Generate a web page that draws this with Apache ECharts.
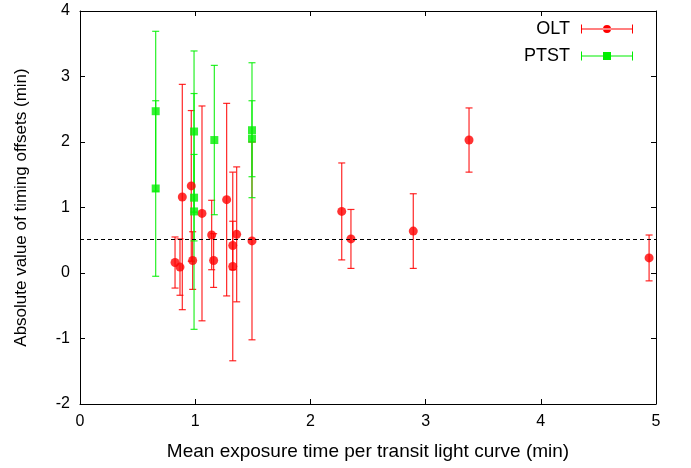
<!DOCTYPE html>
<html>
<head>
<meta charset="utf-8">
<script src="https://cdn.jsdelivr.net/npm/echarts@6/dist/echarts.min.js"></script>
<style>
  html, body { margin: 0; padding: 0; background: #fff; }
  #chart { width: 691px; height: 468px; }
</style>
</head>
<body>
<div id="chart"></div>
<script>
// OLT points: x, y and symmetric error
var oltX = [0.825, 0.868, 0.888, 0.966, 0.978, 1.059, 1.143, 1.16, 1.273, 1.326, 1.326, 1.36, 1.493, 2.272, 2.352, 2.893, 3.377, 4.94];
var oltY = [0.16, 0.09, 1.16, 1.33, 0.19, 0.91, 0.58, 0.19, 1.12, 0.42, 0.10, 0.59, 0.49, 0.94, 0.52, 0.64, 2.03, 0.23];
var oltErr = [0.39, 0.43, 1.72, 1.15, 0.44, 1.64, 0.53, 0.41, 1.47, 0.37, 1.44, 1.03, 1.51, 0.74, 0.45, 0.57, 0.49, 0.35];

// PTST points
var ptstX = [0.657, 0.657, 0.99, 0.99, 0.99, 1.166, 1.493, 1.493];
var ptstY = [2.47, 1.29, 2.16, 1.15, 0.94, 2.03, 2.18, 2.05];
var ptstErr = [1.22, 1.34, 1.23, 0.66, 1.8, 1.14, 1.03, 0.58];

var meanLevel = 0.52;
var xTicks = [0, 1, 2, 3, 4, 5];
var yTicks = [-2, -1, 0, 1, 2, 3, 4];

var fontName = "Liberation Sans, Arial, sans-serif";

function points(xs, ys) {
  return xs.map(function (x, i) { return [x, ys[i]]; });
}

function bars(xs, ys, errs) {
  return xs.map(function (x, i) { return [x, ys[i] - errs[i], ys[i] + errs[i]]; });
}

function renderErrorBar(params, api) {
  var x = api.value(0);
  var top = api.coord([x, api.value(2)]);
  var bot = api.coord([x, api.value(1)]);
  var half = 3.5;
  var style = { stroke: api.visual("color"), lineWidth: 1.2, opacity: 0.85 };
  return {
    type: "group",
    children: [
      { type: "line", shape: { x1: top[0], y1: top[1], x2: bot[0], y2: bot[1] }, style: style },
      { type: "line", shape: { x1: top[0] - half, y1: top[1], x2: top[0] + half, y2: top[1] }, style: style },
      { type: "line", shape: { x1: bot[0] - half, y1: bot[1], x2: bot[0] + half, y2: bot[1] }, style: style },
    ],
  };
}

// legend icons: horizontal error bar with the marker in the middle
var iconOLT = "path://M0,0h1v9H0z M51,0h1v9h-1z M0,4h52v1H0z M22,4.5a4,4 0 1,0 8,0a4,4 0 1,0 -8,0z";
var iconPTST = "path://M0,0h1v9H0z M51,0h1v9h-1z M0,4h52v1H0z M22,0.5h8v8h-8z";

var axisCommon = {
  type: "value",
  axisLine: { show: true, onZero: false, lineStyle: { color: "#000", width: 1 } },
  axisTick: { show: true, inside: true, length: 5, lineStyle: { color: "#000" } },
  splitLine: { show: false },
};

var option = {
  animation: false,
  backgroundColor: "#fff",
  grid: { left: 80, right: 35, top: 11, bottom: 64 },
  legend: {
    right: 53,
    top: 15,
    orient: "vertical",
    align: "right",
    itemWidth: 52,
    itemHeight: 9,
    itemGap: 9,
    textStyle: { fontFamily: fontName, fontSize: 18, color: "#000", padding: [0, 6, 0, 0] },
    data: [
      { name: "OLT", icon: iconOLT, itemStyle: { color: "#ff0000" } },
      { name: "PTST", icon: iconPTST, itemStyle: { color: "#00ee00" } },
    ],
  },
  xAxis: [
    Object.assign({}, axisCommon, {
      min: 0,
      max: 5,
      interval: 1,
      position: "bottom",
      name: "Mean exposure time per transit light curve (min)",
      nameLocation: "middle",
      nameGap: 38,
      nameTextStyle: { fontFamily: fontName, fontSize: 19, color: "#000" },
      axisLabel: {
        fontFamily: fontName,
        fontSize: 16,
        color: "#000",
        margin: 10,
        formatter: function (v) { return xTicks.indexOf(v) >= 0 ? String(v) : ""; },
      },
    }),
    Object.assign({}, axisCommon, {
      min: 0,
      max: 5,
      interval: 1,
      position: "top",
      axisLabel: { show: false },
    }),
  ],
  yAxis: [
    Object.assign({}, axisCommon, {
      min: -2,
      max: 4,
      interval: 1,
      position: "left",
      name: "Absolute value of timing offsets (min)",
      nameLocation: "middle",
      nameGap: 50,
      nameTextStyle: { fontFamily: fontName, fontSize: 17, color: "#000" },
      axisLabel: {
        fontFamily: fontName,
        fontSize: 16,
        color: "#000",
        margin: 10,
        formatter: function (v) { return yTicks.indexOf(v) >= 0 ? String(v) : ""; },
      },
    }),
    Object.assign({}, axisCommon, {
      min: -2,
      max: 4,
      interval: 1,
      position: "right",
      axisLabel: { show: false },
    }),
  ],
  series: [
    {
      name: "OLT",
      type: "custom",
      renderItem: renderErrorBar,
      itemStyle: { color: "#ff0000" },
      encode: { x: 0, y: [1, 2] },
      data: bars(oltX, oltY, oltErr),
      z: 2,
      markLine: {
        silent: true,
        symbol: "none",
        label: { show: false },
        lineStyle: { color: "#000", width: 1, type: [4, 3] },
        data: [{ yAxis: meanLevel }],
      },
    },
    {
      name: "PTST",
      type: "custom",
      renderItem: renderErrorBar,
      itemStyle: { color: "#00ee00" },
      encode: { x: 0, y: [1, 2] },
      data: bars(ptstX, ptstY, ptstErr),
      z: 2,
    },
    {
      name: "OLT",
      type: "scatter",
      symbol: "circle",
      symbolSize: 9,
      itemStyle: { color: "#ff0000" },
      data: points(oltX, oltY),
      z: 3,
    },
    {
      name: "PTST",
      type: "scatter",
      symbol: "rect",
      symbolSize: 8,
      itemStyle: { color: "#00ee00" },
      data: points(ptstX, ptstY),
      z: 3,
    },
  ],
};

var myChart = echarts.init(document.getElementById("chart"), null, { renderer: "canvas" });
myChart.setOption(option);
window.addEventListener("resize", myChart.resize);
</script>
</body>
</html>
